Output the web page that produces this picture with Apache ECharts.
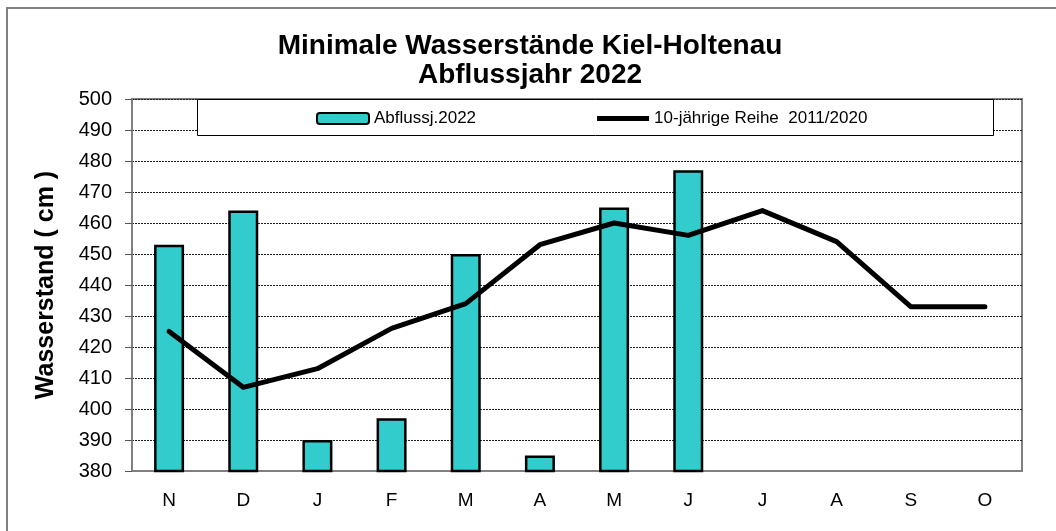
<!DOCTYPE html>
<html>
<head>
<meta charset="utf-8">
<script src="https://cdn.jsdelivr.net/npm/echarts@6/dist/echarts.min.js"></script>
<style>
html,body{margin:0;padding:0;background:#fff;}
#chart{width:1056px;height:531px;}
</style>
</head>
<body>
<div id="chart"></div>
<script>
var months = ['N','D','J','F','M','A','M','J','J','A','S','O'];
var abfluss2022 = [453, 464, 390, 397, 450, 385, 465, 477, null, null, null, null];
var reihe10 = [425, 407, 413, 426, 434, 453, 460, 456, 464, 454, 433, 433];
var yMin = 380, yMax = 500, yStep = 10;
var nameBar = 'Abflussj.2022';
var nameLine = '10-jährige Reihe  2011/2020';

var chart = echarts.init(document.getElementById('chart'), null, {renderer:'canvas'});
var FONT = 'Liberation Sans, Arial, sans-serif';
chart.setOption({
  animation: false,
  backgroundColor: '#fff',
  textStyle: {fontFamily: FONT},
  title: {
    text: 'Minimale Wasserstände Kiel-Holtenau\nAbflussjahr 2022',
    left: 530, textAlign: 'center', top: 32, padding: 0,
    textStyle: {fontFamily: FONT, fontWeight: 'bold', fontSize: 28, lineHeight: 29, color: '#000'}
  },
  graphic: [
    {type:'rect', z: 0, silent: true, shape:{x:7, y:8, width:1200, height:700},
     style:{fill:'none', stroke:'#808080', lineWidth:2}},
    {type:'rect', z: 3, silent: true, shape:{x:197.5, y:99.5, width:796, height:36},
     style:{fill:'#fff', stroke:'#000', lineWidth:1}}
  ],
  legend: {
    left: 316, top: 110, padding: 0, itemGap: 121, z: 5,
    itemWidth: 52, itemHeight: 11,
    textStyle: {fontFamily: FONT, fontSize: 17, color: '#000'},
    data: [
      {name: nameBar},
      {name: nameLine, icon: 'path://M0,0H100V10H0Z', itemStyle: {color: '#000', borderWidth: 0}}
    ]
  },
  grid: {left: 132, right: 34, top: 99, bottom: 60, show: true, borderColor: '#808080', borderWidth: 2, backgroundColor: 'transparent'},
  xAxis: {
    type: 'category', data: months, boundaryGap: true,
    axisLine: {show: true, lineStyle: {color: '#808080', width: 2}},
    axisTick: {show: false},
    axisLabel: {fontFamily: FONT, fontSize: 19, color: '#000', margin: 20}
  },
  yAxis: {
    type: 'value', min: yMin, max: yMax, interval: yStep,
    name: 'Wasserstand ( cm )', nameLocation: 'middle', nameGap: 73,
    nameTextStyle: {fontFamily: FONT, fontWeight: 'bold', fontSize: 25, color: '#000'},
    axisLine: {show: true, lineStyle: {color: '#808080', width: 2}},
    axisTick: {show: true, length: 7, lineStyle: {color: '#555', width: 1}},
    axisLabel: {fontFamily: FONT, fontSize: 20, color: '#000', margin: 20},
    splitLine: {show: true, lineStyle: {color: '#222', width: 1, type: [2, 1]}}
  },
  series: [
    {name: nameBar, type: 'bar', data: abfluss2022, barWidth: 30, z: 2,
     itemStyle: {color: '#33CCCC', borderColor: '#000', borderWidth: 2.5}},
    {name: nameLine, type: 'line', data: reihe10, symbol: 'none', z: 3,
     itemStyle: {color: '#000'},
     lineStyle: {color: '#000', width: 5, cap: 'round', join: 'round'}}
  ]
});
</script>
</body>
</html>
